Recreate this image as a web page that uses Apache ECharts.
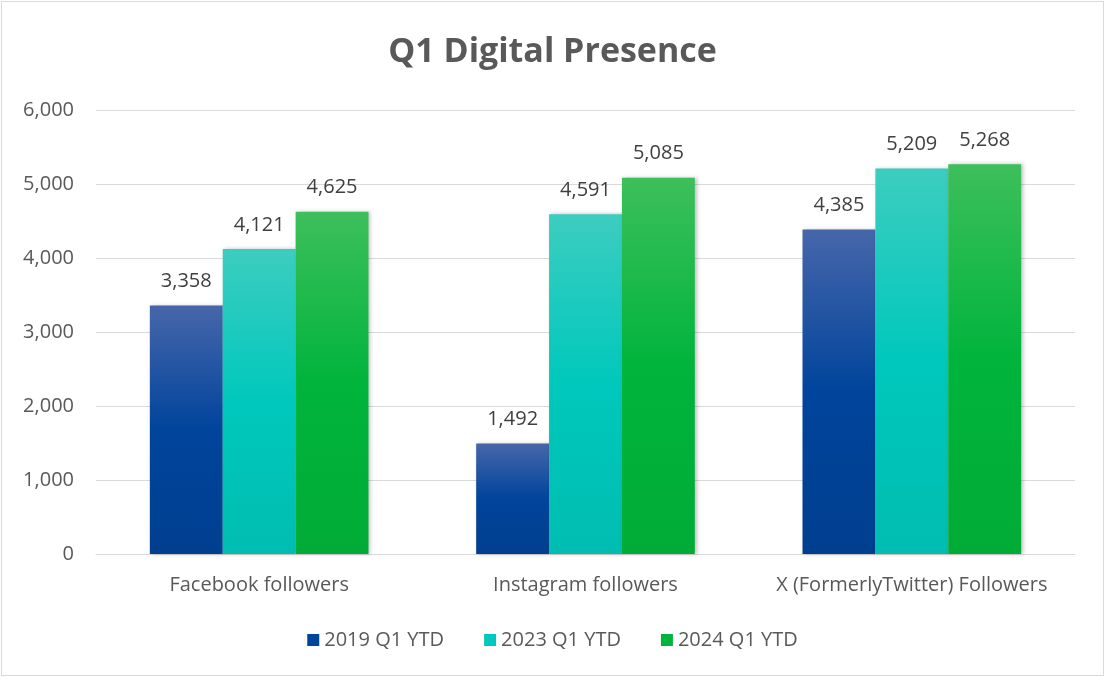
<!DOCTYPE html>
<html>
<head>
    <meta charset="utf-8">
    <title>Q1 Digital Presence</title>
    <style>
        html,body{
            width:100%;
            height:100%;
            overflow:hidden;
            padding:0;
            margin:0;
            background:#fff;
        }
        #main{
            position:absolute;
            left:1px;top:1px;
            width:1101px;height:673px;
            border:1px solid #d9d9d9;
        }
    </style>
    <script src="https://cdn.jsdelivr.net/npm/echarts@6/dist/echarts.min.js"></script>
</head>
<body>
<div id="main"></div>

<script type="text/javascript">

    // 数据
    var categories = ['Facebook followers', 'Instagram followers', 'X (FormerlyTwitter) Followers'];
    var seriesNames = ['2019 Q1 YTD', '2023 Q1 YTD', '2024 Q1 YTD'];
    var values2019 = [3358, 1492, 4385];
    var values2023 = [4121, 4591, 5209];
    var values2024 = [4625, 5085, 5268];

    var font = '"Open Sans", sans-serif';

    function grad(top, mid, bottom) {
        return new echarts.graphic.LinearGradient(0, 0, 0, 1, [
            {offset: 0, color: top},
            {offset: 0.5, color: mid},
            {offset: 1, color: bottom}
        ]);
    }

    var fills = [
        grad('#4766aa', '#00449c', '#003f8f'),
        grad('#3ccdc0', '#00c8bc', '#00bdb1'),
        grad('#3dbf5c', '#00b43c', '#00ac36')
    ];
    var legendColors = ['#00449c', '#00c8bc', '#00b43c'];
    var allValues = [values2019, values2023, values2024];

    var myChart = echarts.init(document.getElementById('main'));

    var series = seriesNames.map(function (name, i) {
        return {
            name: name,
            type: 'bar',
            data: allValues[i],
            barGap: '0%',
            barCategoryGap: '33%',
            itemStyle: {
                color: fills[i],
                shadowColor: 'rgba(0,0,0,0.25)',
                shadowBlur: 4,
                shadowOffsetX: 2,
                shadowOffsetY: 0
            },
            label: {
                show: true,
                position: 'top',
                distance: 14,
                color: '#404040',
                fontFamily: font,
                fontSize: 20,
                formatter: function (p) { return p.value.toLocaleString('en-US'); }
            }
        };
    });

    var option = {
        color: legendColors,
        title: {
            text: 'Q1 Digital Presence',
            left: 'center',
            top: 28,
            textStyle: {
                color: '#595959',
                fontFamily: font,
                fontWeight: 'bold',
                fontSize: 34
            }
        },
        legend: {
            bottom: 20,
            left: 'center',
            itemWidth: 12,
            itemHeight: 12,
            itemGap: 40,
            icon: 'rect',
            textStyle: {
                color: '#595959',
                fontFamily: font,
                fontSize: 20
            },
            data: seriesNames.map(function (n, i) {
                return {name: n, itemStyle: {color: legendColors[i]}};
            })
        },
        grid: {
            left: 94,
            right: 28,
            top: 108,
            bottom: 121
        },
        xAxis: {
            type: 'category',
            data: categories,
            axisLine: {lineStyle: {color: '#d9d9d9'}},
            axisTick: {show: false},
            axisLabel: {
                interval: 0,
                hideOverlap: false,
                color: '#595959',
                fontFamily: font,
                fontSize: 20,
                margin: 21
            }
        },
        yAxis: {
            type: 'value',
            min: 0,
            max: 6000,
            interval: 1000,
            axisLine: {show: false},
            axisTick: {show: false},
            splitLine: {lineStyle: {color: '#d9d9d9'}},
            axisLabel: {
                color: '#595959',
                fontFamily: font,
                fontSize: 20,
                margin: 22,
                formatter: function (v) { return v.toLocaleString('en-US'); }
            }
        },
        series: series
    };

    myChart.setOption(option);

</script>
</body>
</html>
